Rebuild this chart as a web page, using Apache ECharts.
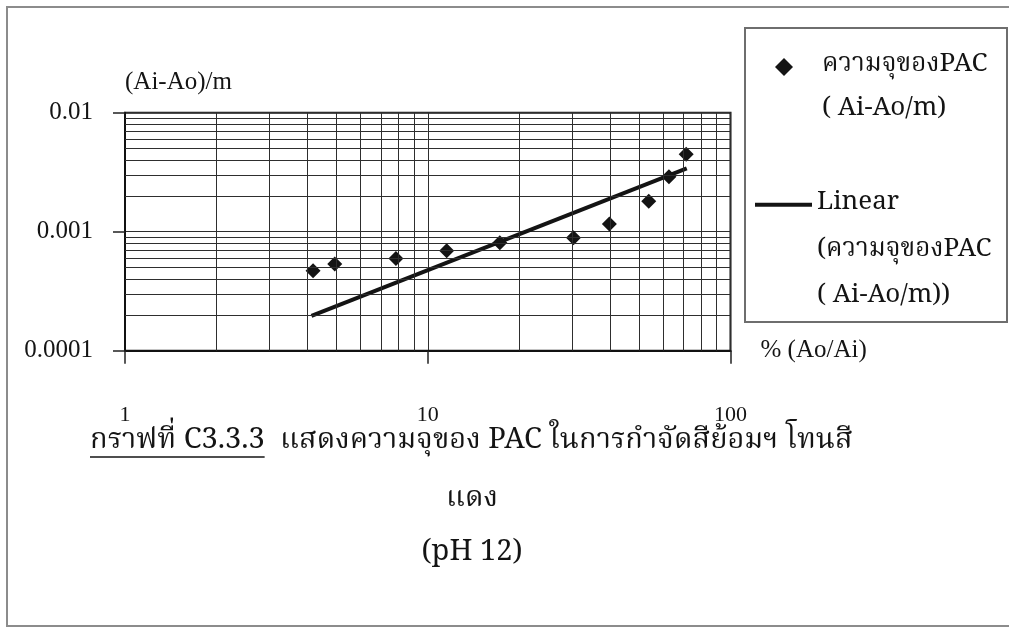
<!DOCTYPE html>
<html>
<head>
<meta charset="utf-8">
<script src="https://cdn.jsdelivr.net/npm/echarts@6/dist/echarts.min.js"></script>
<style>
  html, body { margin: 0; padding: 0; background: #fff; }
  #chart { width: 1009px; height: 628px; }
</style>
</head>
<body>
<div id="chart"></div>
<script>
// Adsorption capacity of PAC (Ai-Ao)/m against % (Ao/Ai), red dye, pH 12
const removalPct = [4.18, 4.93, 7.85, 11.55, 17.3, 30.3, 39.8, 53.7, 62.6, 71.4];
const capacity   = [0.00047, 0.000535, 0.000596, 0.000692, 0.000808, 0.00089, 0.00116, 0.0018, 0.0029, 0.00447];

// end points of the linear trend line
const trendPct = [4.13, 71.7];
const trendCap = [0.000196, 0.00341];

// tick labels and minor grid positions of the two log axes
const xTickText = ['1', '10', '100'];
const yTickText = ['0.0001', '0.001', '0.01'];
const xRange = [1, 100];
const yRange = [0.0001, 0.01];
const xMinorTicks = [2, 3, 4, 5, 6, 7, 8, 9, 20, 30, 40, 50, 60, 70, 80, 90];
const yMinorTicks = [0.0002, 0.0003, 0.0004, 0.0005, 0.0006, 0.0007, 0.0008, 0.0009,
                     0.002, 0.003, 0.004, 0.005, 0.006, 0.007, 0.008, 0.009];

const seriesPoints = 'ความจุของPAC\n( Ai-Ao/m)';
const seriesTrend  = 'Linear\n(ความจุของPAC\n( Ai-Ao/m))';

const latin = '"Liberation Serif", "Times New Roman", serif';
const thai  = '"Noto Serif Thai", "Noto Sans Thai", "Norasi", "Garuda", "Loma", "Liberation Serif", serif';
const ink = '#141414';
const gridInk = '#2e2e2e';

const pointData = removalPct.map((x, i) => [x, capacity[i]]);
const trendData = trendPct.map((x, i) => [x, trendCap[i]]);

// minor grid lines as axis-to-axis segments in data coordinates
const minorLines = xMinorTicks.map(v => [{ coord: [v, yRange[0]] }, { coord: [v, yRange[1]] }])
  .concat(yMinorTicks.map(v => [{ coord: [xRange[0], v] }, { coord: [xRange[1], v] }]));

function decadeIndex(v, first) {
  return Math.round(Math.log10(v) - Math.log10(first));
}

const chart = echarts.init(document.getElementById('chart'));

// caption under the chart, with an underline below the figure number
const captionFont = '29px ' + thai;
const figNo = 'กราฟที่ C3.3.3';
const measure = document.createElement('canvas').getContext('2d');
measure.font = captionFont;
const figNoWidth = measure.measureText(figNo).width;
const figNoLeft = 90;

chart.setOption({
  animation: false,
  backgroundColor: '#fff',
  grid: {
    left: 125, top: 112.7, width: 605.5, height: 238,
    outerBoundsMode: 'none',
    show: true, borderColor: '#111', borderWidth: 2, backgroundColor: 'transparent'
  },
  xAxis: {
    type: 'log', logBase: 10, min: xRange[0], max: xRange[1],
    name: '% (Ao/Ai)', nameLocation: 'end', nameGap: 30,
    nameTextStyle: { fontFamily: latin, fontSize: 25, color: ink, align: 'left', verticalAlign: 'middle', padding: [28, 0, 0, 0] },
    axisLine: { show: true, lineStyle: { color: '#111', width: 2 } },
    axisTick: { show: true, inside: false, length: 13, lineStyle: { color: '#222', width: 1.5 } },
    axisLabel: {
      margin: 54, fontFamily: latin, fontSize: 22, color: ink,
      formatter: v => xTickText[decadeIndex(v, xRange[0])]
    },
    splitLine: { show: true, lineStyle: { color: gridInk, width: 1 } }
  },
  yAxis: {
    type: 'log', logBase: 10, min: yRange[0], max: yRange[1],
    name: '(Ai-Ao)/m', nameLocation: 'end', nameGap: 30,
    nameTextStyle: { fontFamily: latin, fontSize: 25, color: ink, align: 'left', verticalAlign: 'middle' },
    axisLine: { show: true, lineStyle: { color: '#111', width: 2 } },
    axisTick: { show: true, inside: false, length: 12, lineStyle: { color: '#222', width: 1.5 } },
    axisLabel: {
      margin: 32, fontFamily: latin, fontSize: 25, color: ink,
      formatter: v => yTickText[decadeIndex(v, yRange[0])]
    },
    splitLine: { show: true, lineStyle: { color: gridInk, width: 1 } }
  },
  legend: [
    {
      data: [{ name: seriesPoints, icon: 'diamond' }],
      orient: 'vertical', left: 775, top: 1, padding: 0,
      itemWidth: 18, itemHeight: 18, selectedMode: false,
      itemStyle: { opacity: 1 },
      formatter: n => '\n' + n,
      textStyle: { fontFamily: thai, fontSize: 26, lineHeight: 44, color: ink, padding: [0, 0, 0, 24] }
    },
    {
      data: [{ name: seriesTrend, icon: 'rect' }],
      orient: 'vertical', left: 755, top: 88.5, padding: 0,
      itemWidth: 57, itemHeight: 4, selectedMode: false,
      lineStyle: { width: 4 },
      formatter: n => '\n\n' + n,
      textStyle: { fontFamily: thai, fontSize: 26, lineHeight: 46.5, color: ink }
    }
  ],
  series: [
    {
      // minor grid lines at 2..9 of every decade
      name: 'minor-grid',
      type: 'line',
      data: [],
      z: 1,
      silent: true,
      markLine: {
        silent: true,
        symbol: ['none', 'none'],
        label: { show: false },
        lineStyle: { color: gridInk, width: 1, type: 'solid' },
        emphasis: { disabled: true },
        data: minorLines
      }
    },
    {
      name: seriesTrend,
      type: 'line',
      data: trendData,
      symbol: 'none',
      color: ink,
      lineStyle: { color: ink, width: 4 },
      z: 3
    },
    {
      name: seriesPoints,
      type: 'scatter',
      data: pointData,
      symbol: 'diamond',
      symbolSize: 15,
      itemStyle: { color: ink, opacity: 1 },
      z: 4
    }
  ],
  graphic: [
    {
      type: 'rect', silent: true, z: 0,
      shape: { x: 7, y: 7, width: 1012, height: 619 },
      style: { fill: 'none', stroke: '#8c8c8c', lineWidth: 2 }
    },
    {
      type: 'rect', silent: true, z: 0,
      shape: { x: 745, y: 28, width: 262, height: 294 },
      style: { fill: 'none', stroke: '#6e6e6e', lineWidth: 2 }
    },
    {
      type: 'text', silent: true, x: figNoLeft, y: 443,
      style: { text: figNo, font: captionFont, fill: ink, verticalAlign: 'middle' }
    },
    {
      type: 'line', silent: true,
      shape: { x1: figNoLeft, y1: 457, x2: figNoLeft + figNoWidth, y2: 457 },
      style: { stroke: ink, lineWidth: 1.5 }
    },
    {
      type: 'text', silent: true, x: 280, y: 443,
      style: { text: 'แสดงความจุของ PAC ในการกำจัดสีย้อมฯ โทนสี', font: captionFont, fill: ink, verticalAlign: 'middle' }
    },
    {
      type: 'text', silent: true, x: 472, y: 501,
      style: { text: 'แดง', font: captionFont, fill: ink, align: 'center', verticalAlign: 'middle' }
    },
    {
      type: 'text', silent: true, x: 472, y: 555,
      style: { text: '(pH 12)', font: captionFont, fill: ink, align: 'center', verticalAlign: 'middle' }
    }
  ]
});
</script>
</body>
</html>
